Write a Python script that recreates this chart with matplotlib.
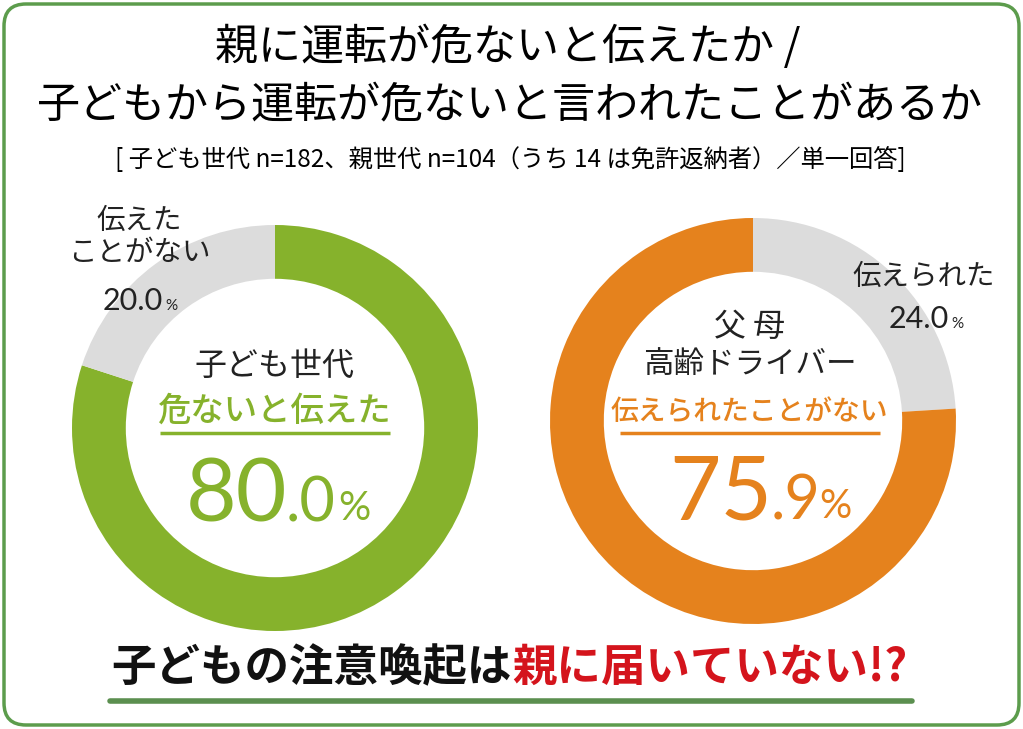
import matplotlib
matplotlib.use("Agg")
import matplotlib.pyplot as plt
from matplotlib.patches import FancyBboxPatch

plt.rcParams['font.family'] = ['Noto Sans CJK JP', 'DejaVu Sans']

# data
child_labels = ["危ないと伝えた", "伝えたことがない"]
child_values = [80.0, 20.0]
parent_labels = ["伝えられた", "伝えられたことがない"]
parent_values = [24.0, 75.9]

GREEN = "#86b22c"
ORANGE = "#e5821d"
GRAY = "#dcdcdc"
RED = "#d4141c"
DARK_GREEN = "#5b8f4f"
NUM_FONT = ["Lato", "DejaVu Sans"]

W, H = 1023, 729
fig = plt.figure(figsize=(W / 100, H / 100), dpi=100)
fig.patch.set_facecolor("white")


def donut(cx, cy, r, values, colors):
    d = fig.add_axes([(cx - r) / W, (H - cy - r) / H, 2 * r / W, 2 * r / H])
    d.pie(values, colors=colors, startangle=90, counterclock=False, radius=1,
          wedgeprops=dict(width=0.265, linewidth=0))
    d.set_xlim(-1, 1)
    d.set_ylim(-1, 1)
    d.set_aspect("equal")
    d.axis("off")
    return d


donut(275, 428, 203, child_values, [GREEN, GRAY])
donut(753, 421, 203, parent_values, [GRAY, ORANGE])

# text axes on top, in pixel coords
ax = fig.add_axes([0, 0, 1, 1])
ax.set_xlim(0, W)
ax.set_ylim(H, 0)
ax.axis("off")
ax.patch.set_alpha(0)

border = FancyBboxPatch((4, 4), W - 8, H - 8, boxstyle="round,pad=0,rounding_size=22",
                        fill=False, ec="#5c9c4c", lw=2.5)
ax.add_patch(border)

# titles
ax.text(508, 48, "親に運転が危ないと伝えたか /", ha="center", va="center", fontsize=31)
ax.text(510, 106, "子どもから運転が危ないと言われたことがあるか", ha="center", va="center", fontsize=31)
ax.text(510, 160, "[ 子ども世代 n=182、親世代 n=104（うち 14 は免許返納者）／単一回答]",
        ha="center", va="center", fontsize=17.5)

# left donut texts
ax.text(139, 221, "伝えた", ha="center", va="center", fontsize=20.5, color="#222222")
ax.text(139, 253, "ことがない", ha="center", va="center", fontsize=20.5, color="#222222")
ax.text(163, 310, f"{child_values[1]:.1f}", ha="right", va="baseline", fontsize=22,
        family=NUM_FONT, color="#222222")
ax.text(165, 310, "%", ha="left", va="baseline", fontsize=11, family=NUM_FONT, color="#222222")

ax.text(274, 366, "子ども世代", ha="center", va="center", fontsize=23, color="#222222")
ax.text(274, 411, child_labels[0], ha="center", va="center", fontsize=24, color=GREEN,
        fontweight="medium")
ax.plot([160, 390], [433, 433], color=GREEN, lw=2.5, solid_capstyle="butt")
cv = f"{child_values[0]:.1f}".split(".")
ax.text(287, 522, cv[0], ha="right", va="baseline", fontsize=63, family=NUM_FONT, color=GREEN)
ax.text(286, 522, "." + cv[1], ha="left", va="baseline", fontsize=44, family=NUM_FONT, color=GREEN)
ax.text(338, 520, "%", ha="left", va="baseline", fontsize=29, family=NUM_FONT, color=GREEN)

# right donut texts
ax.text(924, 277, parent_labels[0], ha="center", va="center", fontsize=20.5, color="#222222")
ax.text(949, 328, f"{parent_values[0]:.1f}", ha="right", va="baseline", fontsize=22,
        family=NUM_FONT, color="#222222")
ax.text(951, 328, "%", ha="left", va="baseline", fontsize=11, family=NUM_FONT, color="#222222")

ax.text(750, 327, "父 母", ha="center", va="center", fontsize=23, color="#222222")
ax.text(750, 364, "高齢ドライバー", ha="center", va="center", fontsize=22, color="#222222")
ax.text(749, 411, parent_labels[1], ha="center", va="center", fontsize=20, color=ORANGE,
        fontweight="medium")
ax.plot([620, 880], [433, 433], color=ORANGE, lw=2.5, solid_capstyle="butt")
pv = f"{parent_values[1]:.1f}".split(".")
ax.text(772, 520, pv[0], ha="right", va="baseline", fontsize=64, family=NUM_FONT, color=ORANGE)
ax.text(771, 520, "." + pv[1], ha="left", va="baseline", fontsize=44, family=NUM_FONT, color=ORANGE)
ax.text(819, 518, "%", ha="left", va="baseline", fontsize=29, family=NUM_FONT, color=ORANGE)

# bottom message
ax.text(512, 668, "子どもの注意喚起は", ha="right", va="center", fontsize=32,
        fontweight="bold", color="#111111")
ax.text(512, 668, "親に届いていない!?", ha="left", va="center", fontsize=32,
        fontweight="bold", color=RED)
ax.plot([110, 912], [701, 701], color=DARK_GREEN, lw=4, solid_capstyle="round")

fig.savefig("out.png", dpi=100)
